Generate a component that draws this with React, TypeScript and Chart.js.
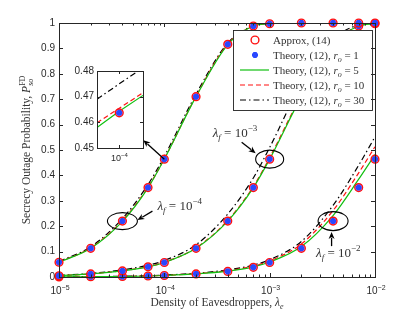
import React, { useEffect, useRef } from 'react';
import { Chart, registerables } from 'chart.js';
Chart.register(...registerables);

// ---------- data ----------
const lambdaE = [1e-5, 2e-5, 4e-5, 7e-5, 1e-4, 2e-4, 4e-4, 7e-4, 1e-3, 2e-3, 4e-3, 7e-3, 1e-2];

// lambda_f = 1e-4
const approxF4 = [0.058, 0.113, 0.22, 0.352, 0.464, 0.71, 0.916, 0.988, 0.997, 1, 1, 1, 1];
const theoryR1F4 = [0.058, 0.113, 0.22, 0.352, 0.464, 0.71, 0.916, 0.988, 0.997, 1, 1, 1, 1];
const theoryR5F4 = [0.058, 0.113, 0.219, 0.351, 0.4645, 0.71, 0.915, 0.988, 0.997, 1, 1, 1, 1];
const theoryR10F4 = [0.059, 0.115, 0.222, 0.354, 0.4655, 0.712, 0.917, 0.988, 0.997, 1, 1, 1, 1];
const theoryR30F4 = [0.061, 0.119, 0.23, 0.364, 0.475, 0.72, 0.921, 0.989, 0.998, 1, 1, 1, 1];

// lambda_f = 1e-3
const approxF3 = [0.005, 0.012, 0.024, 0.04, 0.057, 0.113, 0.22, 0.352, 0.464, 0.71, 0.916, 0.988, 0.997];
const theoryR1F3 = [0.005, 0.012, 0.024, 0.04, 0.057, 0.113, 0.22, 0.352, 0.464, 0.71, 0.916, 0.988, 0.997];
const theoryR5F3 = [0.005, 0.012, 0.024, 0.04, 0.057, 0.113, 0.22, 0.352, 0.464, 0.71, 0.915, 0.988, 0.997];
const theoryR10F3 = [0.0055, 0.0125, 0.025, 0.041, 0.058, 0.115, 0.223, 0.356, 0.47, 0.715, 0.918, 0.988, 0.997];
const theoryR30F3 = [0.006, 0.014, 0.028, 0.046, 0.065, 0.127, 0.248, 0.39, 0.51, 0.76, 0.935, 0.992, 0.998];

// lambda_f = 1e-2
const approxF2 = [0.0005, 0.001, 0.002, 0.004, 0.006, 0.012, 0.022, 0.038, 0.057, 0.113, 0.22, 0.352, 0.464];
const theoryR1F2 = [0.0005, 0.001, 0.002, 0.004, 0.006, 0.012, 0.022, 0.038, 0.057, 0.113, 0.22, 0.352, 0.464];
const theoryR5F2 = [0.0005, 0.001, 0.002, 0.004, 0.006, 0.012, 0.023, 0.04, 0.059, 0.12, 0.242, 0.385, 0.482];
const theoryR10F2 = [0.0006, 0.0012, 0.0024, 0.0045, 0.0065, 0.013, 0.025, 0.043, 0.063, 0.13, 0.262, 0.41, 0.513];
const theoryR30F2 = [0.0007, 0.0014, 0.003, 0.005, 0.0075, 0.015, 0.028, 0.047, 0.068, 0.14, 0.282, 0.44, 0.552];

// inset (zoom around lambda_e = 1e-4, lambda_f = 1e-4)
const insetX = [0.956e-4, 1e-4, 1.047e-4];
const insetR5 = [0.458, 0.4643, 0.4705];
const insetR10 = [0.4598, 0.4655, 0.4715];
const insetR30 = [0.469, 0.475, 0.4813];
const insetMarkerX = [1e-4];
const insetMarkerY = [0.4637];

const yTicks = [0, 0.1, 0.2, 0.3, 0.4, 0.5, 0.6, 0.7, 0.8, 0.9, 1];
const yTickLabels = ['0', '0.1', '0.2', '0.3', '0.4', '0.5', '0.6', '0.7', '0.8', '0.9', '1'];
const xTicks = [1e-5, 1e-4, 1e-3, 1e-2];
const xTickExp = ['\u22125', '\u22124', '\u22123', '\u22122'];
const insetYTicks = [0.45, 0.46, 0.47, 0.48];
const insetYTickLabels = ['0.45', '0.46', '0.47', '0.48'];

const legendLabels = ['Approx, (14)', 'Theory, (12), ', 'Theory, (12), ', 'Theory, (12), ', 'Theory, (12), '];
const legendRo = ['', '1', '5', '10', '30'];

// ---------- styles ----------
const GREEN = '#10c010';
const RED = '#ff1010';
const BLACK = '#000000';
const BLUE = '#2a48ff';
const SANS = '"Liberation Sans", Arial, sans-serif';
const SERIF = '"Liberation Serif", "DejaVu Serif", serif';
const TXT = '#2a2a2a';

type Seg = { t: string; it?: boolean; sup?: boolean; sub?: boolean; stack?: boolean };

function segFont(s: Seg, size: number, fam: string) {
  const sz = s.sup || s.sub ? Math.round(size * 0.7) : size;
  return `${s.it ? 'italic ' : ''}${sz}px ${fam}`;
}
function richWidth(ctx: CanvasRenderingContext2D, segs: Seg[], size: number, fam: string) {
  let w = 0, lastStart = 0, lastW = 0;
  for (const s of segs) {
    ctx.font = segFont(s, size, fam);
    const sw = ctx.measureText(s.t).width;
    if (s.stack) w = lastStart + Math.max(lastW, sw);
    else { lastStart = w; lastW = sw; w += sw; }
  }
  return w;
}
function drawRich(ctx: CanvasRenderingContext2D, segs: Seg[], x: number, y: number, size: number, fam: string, align: string, color: string) {
  const total = richWidth(ctx, segs, size, fam);
  let cx = align === 'center' ? x - total / 2 : align === 'right' ? x - total : x;
  ctx.fillStyle = color;
  ctx.textBaseline = 'alphabetic';
  ctx.textAlign = 'left';
  let lastStart = cx, lastW = 0;
  for (const s of segs) {
    ctx.font = segFont(s, size, fam);
    const sw = ctx.measureText(s.t).width;
    const dx = s.stack ? lastStart : cx;
    const dy = s.sup ? -size * 0.4 : s.sub ? size * 0.25 : 0;
    ctx.fillText(s.t, dx, y + dy);
    if (s.stack) cx = lastStart + Math.max(lastW, sw);
    else { lastStart = cx; lastW = sw; cx += sw; }
  }
}

function drawArrow(ctx: CanvasRenderingContext2D, x1: number, y1: number, x2: number, y2: number) {
  const ang = Math.atan2(y2 - y1, x2 - x1);
  const hl = 7, hw = 3;
  ctx.strokeStyle = '#000';
  ctx.fillStyle = '#000';
  ctx.lineWidth = 1.3;
  ctx.setLineDash([]);
  ctx.beginPath();
  ctx.moveTo(x1, y1);
  ctx.lineTo(x2 - Math.cos(ang) * hl * 0.8, y2 - Math.sin(ang) * hl * 0.8);
  ctx.stroke();
  ctx.beginPath();
  ctx.moveTo(x2, y2);
  ctx.lineTo(x2 - Math.cos(ang) * hl - Math.sin(ang) * hw, y2 - Math.sin(ang) * hl + Math.cos(ang) * hw);
  ctx.lineTo(x2 - Math.cos(ang) * hl * 0.7, y2 - Math.sin(ang) * hl * 0.7);
  ctx.lineTo(x2 - Math.cos(ang) * hl + Math.sin(ang) * hw, y2 - Math.sin(ang) * hl - Math.cos(ang) * hw);
  ctx.closePath();
  ctx.fill();
}

function drawStar(ctx: CanvasRenderingContext2D, x: number, y: number, r: number) {
  ctx.strokeStyle = BLUE;
  ctx.lineWidth = 2.2;
  ctx.setLineDash([]);
  ctx.beginPath();
  for (let k = 0; k < 4; k++) {
    const a = (k * Math.PI) / 4;
    ctx.moveTo(x - Math.cos(a) * r, y - Math.sin(a) * r);
    ctx.lineTo(x + Math.cos(a) * r, y + Math.sin(a) * r);
  }
  ctx.stroke();
}

const pts = (xs: number[], ys: number[]) => xs.map((x, i) => ({ x, y: ys[i] }));

function lineDs(ys: number[], color: string, dash: number[], xs = lambdaE) {
  return {
    data: pts(xs, ys),
    borderColor: color,
    backgroundColor: color,
    borderWidth: 1.2,
    borderDash: dash,
    pointRadius: 0,
    showLine: true,
    fill: false,
    cubicInterpolationMode: 'monotone',
  };
}
function circleDs(ys: number[], xs = lambdaE) {
  return {
    data: pts(xs, ys),
    showLine: false,
    pointStyle: 'circle',
    pointRadius: 3.9,
    pointBorderWidth: 1.4,
    pointBorderColor: RED,
    pointBackgroundColor: 'rgba(200,60,200,0.5)',
    borderColor: RED,
    clip: false,
  };
}
function starDs(ys: number[], xs = lambdaE) {
  return {
    data: pts(xs, ys),
    showLine: false,
    pointStyle: 'star',
    pointRadius: 3,
    pointBorderWidth: 2.2,
    pointBorderColor: BLUE,
    pointBackgroundColor: BLUE,
    borderColor: BLUE,
    clip: false,
  };
}

// annotation anchors (data coords) with pixel offsets
const annotations = [
  { x: 4e-5, y: 0.22, rx: 15, ry: 8.5, arrow: [30, -10, 15, -1], label: [35, -16], exp: '\u22124' },
  { x: 1e-3, y: 0.464, rx: 14, ry: 9, arrow: [-28, -17, -14, -6], label: [-57, -27], exp: '\u22123' },
  { x: 4e-3, y: 0.22, rx: 15, ry: 9.5, arrow: [-1.5, 25, -1.5, 11], label: [-17, 31], exp: '\u22122' },
];

const mainPlugin = {
  id: 'mainDeco',
  afterDraw(chart: any) {
    const { ctx, chartArea: ca, scales } = chart;
    const xs = scales.x, ys = scales.y;
    ctx.save();

    // annotations
    for (const a of annotations) {
      const px = xs.getPixelForValue(a.x), py = ys.getPixelForValue(a.y);
      ctx.strokeStyle = '#000';
      ctx.lineWidth = 1.1;
      ctx.setLineDash([]);
      ctx.beginPath();
      ctx.ellipse(px, py, a.rx, a.ry, 0, 0, Math.PI * 2);
      ctx.stroke();
      drawArrow(ctx, px + a.arrow[0], py + a.arrow[1], px + a.arrow[2], py + a.arrow[3]);
      drawRich(ctx, [
        { t: '\u03bb', it: true }, { t: 'f', it: true, sub: true }, { t: ' = 10' }, { t: a.exp, sup: true },
      ], px + a.label[0], py + a.label[1] + 4.5, 13, SERIF, 'left', '#333');
    }
    // inset arrow
    {
      const px = xs.getPixelForValue(1e-4), py = ys.getPixelForValue(0.464);
      drawArrow(ctx, px, py, px - 21, py - 19);
    }

    // legend
    const lx = 233, ly = 30, lw = 139, lh = 80;
    ctx.fillStyle = '#fff';
    ctx.fillRect(lx, ly, lw, lh);
    ctx.strokeStyle = '#222';
    ctx.lineWidth = 0.9;
    ctx.setLineDash([]);
    ctx.strokeRect(lx + 0.5, ly + 0.5, lw, lh);
    const rowY = [40, 55, 70, 85, 100];
    for (let i = 0; i < 5; i++) {
      const y = rowY[i];
      if (i === 0) {
        ctx.strokeStyle = RED; ctx.lineWidth = 1.4; ctx.setLineDash([]);
        ctx.beginPath(); ctx.arc(255, y, 3.9, 0, Math.PI * 2); ctx.stroke();
      } else if (i === 1) {
        drawStar(ctx, 255, y, 3);
      } else {
        ctx.strokeStyle = i === 2 ? GREEN : i === 3 ? RED : BLACK;
        ctx.lineWidth = 1.2;
        ctx.setLineDash(i === 2 ? [] : i === 3 ? [5, 3] : [6, 3, 1.5, 3]);
        ctx.beginPath(); ctx.moveTo(240, y); ctx.lineTo(269, y); ctx.stroke();
        ctx.setLineDash([]);
      }
      const segs: Seg[] = [{ t: legendLabels[i] }];
      if (legendRo[i]) segs.push({ t: 'r', it: true }, { t: 'o', it: true, sub: true }, { t: ' = ' + legendRo[i] });
      drawRich(ctx, segs, 273, y + 4, 11, SERIF, 'left', '#333');
    }

    // axes box
    ctx.strokeStyle = '#262626';
    ctx.lineWidth = 1;
    ctx.setLineDash([]);
    ctx.strokeRect(Math.round(ca.left) + 0.5, Math.round(ca.top) + 0.5, Math.round(ca.right - ca.left), Math.round(ca.bottom - ca.top));
    // y ticks
    ctx.beginPath();
    for (const v of yTicks) {
      const p = Math.round(ys.getPixelForValue(v)) + 0.5;
      ctx.moveTo(ca.left, p); ctx.lineTo(ca.left + 4, p);
      ctx.moveTo(ca.right, p); ctx.lineTo(ca.right - 4, p);
    }
    // x ticks major & minor
    for (let d = -5; d <= -3; d++) {
      for (let m = 1; m <= 9; m++) {
        const v = m * Math.pow(10, d);
        const p = Math.round(xs.getPixelForValue(v)) + 0.5;
        const len = m === 1 ? 4 : 2.5;
        ctx.moveTo(p, ca.bottom); ctx.lineTo(p, ca.bottom - len);
        ctx.moveTo(p, ca.top); ctx.lineTo(p, ca.top + len);
      }
    }
    ctx.stroke();
    // y tick labels
    ctx.fillStyle = TXT;
    ctx.font = `10px ${SANS}`;
    ctx.textAlign = 'right';
    ctx.textBaseline = 'middle';
    yTicks.forEach((v, i) => ctx.fillText(yTickLabels[i], ca.left - 4, ys.getPixelForValue(v)));
    // x tick labels
    xTicks.forEach((v, i) => {
      drawRich(ctx, [{ t: '10' }, { t: xTickExp[i], sup: true }], xs.getPixelForValue(v) + 1, ca.bottom + 17, 10, SANS, 'center', TXT);
    });
    // axis titles
    drawRich(ctx, [{ t: 'Density of Eavesdroppers, ' }, { t: '\u03bb', it: true }, { t: 'e', it: true, sub: true }],
      (ca.left + ca.right) / 2, 306, 11.5, SERIF, 'center', '#333');
    ctx.save();
    ctx.translate(26, (ca.top + ca.bottom) / 2);
    ctx.rotate(-Math.PI / 2);
    drawRich(ctx, [{ t: 'Secrecy Outage Probability, ' }, { t: 'P', it: true }, { t: 'FD', sup: true }, { t: 'so', it: true, sub: true, stack: true }],
      0, 4, 11.5, SERIF, 'center', '#333');
    ctx.restore();
    ctx.restore();
  },
};

const insetPlugin = {
  id: 'insetDeco',
  beforeDatasetsDraw(chart: any) {
    const { ctx, chartArea: ca } = chart;
    ctx.save();
    ctx.fillStyle = '#fff';
    ctx.fillRect(ca.left, ca.top, ca.right - ca.left, ca.bottom - ca.top);
    ctx.restore();
  },
  afterDraw(chart: any) {
    const { ctx, chartArea: ca, scales } = chart;
    const xs = scales.x, ys = scales.y;
    ctx.save();
    ctx.strokeStyle = '#262626';
    ctx.lineWidth = 1;
    ctx.setLineDash([]);
    ctx.strokeRect(Math.round(ca.left) + 0.5, Math.round(ca.top) + 0.5, Math.round(ca.right - ca.left), Math.round(ca.bottom - ca.top));
    ctx.beginPath();
    for (const v of insetYTicks) {
      const p = Math.round(ys.getPixelForValue(v)) + 0.5;
      ctx.moveTo(ca.left, p); ctx.lineTo(ca.left + 3, p);
      ctx.moveTo(ca.right, p); ctx.lineTo(ca.right - 3, p);
    }
    const px = Math.round(xs.getPixelForValue(1e-4)) + 0.5;
    ctx.moveTo(px, ca.bottom); ctx.lineTo(px, ca.bottom - 3);
    ctx.moveTo(px, ca.top); ctx.lineTo(px, ca.top + 3);
    ctx.stroke();
    ctx.fillStyle = TXT;
    ctx.font = `10px ${SANS}`;
    ctx.textAlign = 'right';
    ctx.textBaseline = 'middle';
    insetYTicks.forEach((v, i) => ctx.fillText(insetYTickLabels[i], ca.left - 3, ys.getPixelForValue(v)));
    drawRich(ctx, [{ t: '10' }, { t: '\u22124', sup: true }], px, ca.bottom + 13, 9, SANS, 'center', TXT);
    ctx.restore();
  },
};

export default function App() {
  const mainRef = useRef<HTMLCanvasElement>(null);
  const insetRef = useRef<HTMLCanvasElement>(null);

  useEffect(() => {
    const groups = [
      [approxF4, theoryR1F4, theoryR5F4, theoryR10F4, theoryR30F4],
      [approxF3, theoryR1F3, theoryR5F3, theoryR10F3, theoryR30F3],
      [approxF2, theoryR1F2, theoryR5F2, theoryR10F2, theoryR30F2],
    ];
    const markerSets: any[] = [];
    const lineSets: any[] = [];
    for (const g of groups) {
      markerSets.push(starDs(g[1]));
      markerSets.push(circleDs(g[0]));
      lineSets.push(lineDs(g[2], GREEN, []));
      lineSets.push(lineDs(g[3], RED, [5, 3]));
      lineSets.push(lineDs(g[4], BLACK, [6, 3, 1.5, 3]));
    }
    const main = new Chart(mainRef.current as HTMLCanvasElement, {
      type: 'scatter',
      data: { datasets: [...markerSets, ...lineSets] as any },
      options: {
        animation: false,
        responsive: false,
        devicePixelRatio: 1,
        events: [],
        layout: { padding: { top: 23, right: 40, left: 0, bottom: 0 } },
        plugins: { legend: { display: false }, tooltip: { enabled: false } },
        scales: {
          x: {
            type: 'logarithmic', min: 1e-5, max: 1e-2,
            grid: { display: false }, border: { display: false }, ticks: { display: false },
            afterFit: (s: any) => { s.height = 36; },
          },
          y: {
            type: 'linear', min: 0, max: 1,
            grid: { display: false }, border: { display: false }, ticks: { display: false },
            afterFit: (s: any) => { s.width = 59; },
          },
        },
      } as any,
      plugins: [mainPlugin],
    });

    const inset = new Chart(insetRef.current as HTMLCanvasElement, {
      type: 'scatter',
      data: {
        datasets: [
          starDs(insetMarkerY, insetMarkerX),
          circleDs(insetMarkerY, insetMarkerX),
          { ...lineDs(insetR5, GREEN, [], insetX), cubicInterpolationMode: 'default', clip: 0 },
          { ...lineDs(insetR10, RED, [5, 3], insetX), cubicInterpolationMode: 'default', clip: 0 },
          { ...lineDs(insetR30, BLACK, [6, 3, 1.5, 3], insetX), cubicInterpolationMode: 'default', clip: 0 },
        ] as any,
      },
      options: {
        animation: false,
        responsive: false,
        devicePixelRatio: 1,
        events: [],
        layout: { padding: { top: 16, right: 12, left: 0, bottom: 0 } },
        plugins: { legend: { display: false }, tooltip: { enabled: false } },
        scales: {
          x: {
            type: 'linear', min: 0.956e-4, max: 1.047e-4,
            grid: { display: false }, border: { display: false }, ticks: { display: false },
            afterFit: (s: any) => { s.height = 17; },
          },
          y: {
            type: 'linear', min: 0.45, max: 0.48,
            grid: { display: false }, border: { display: false }, ticks: { display: false },
            afterFit: (s: any) => { s.width = 37; },
          },
        },
      } as any,
      plugins: [insetPlugin],
    });

    return () => { main.destroy(); inset.destroy(); };
  }, []);

  return (
    <div style={{ position: 'fixed', left: 0, top: 0, width: 415, height: 313, background: '#fff' }}>
      <canvas ref={mainRef} width={415} height={313} style={{ position: 'absolute', left: 0, top: 0 }} />
      <canvas ref={insetRef} width={95} height={110} style={{ position: 'absolute', left: 60, top: 55 }} />
    </div>
  );
}
